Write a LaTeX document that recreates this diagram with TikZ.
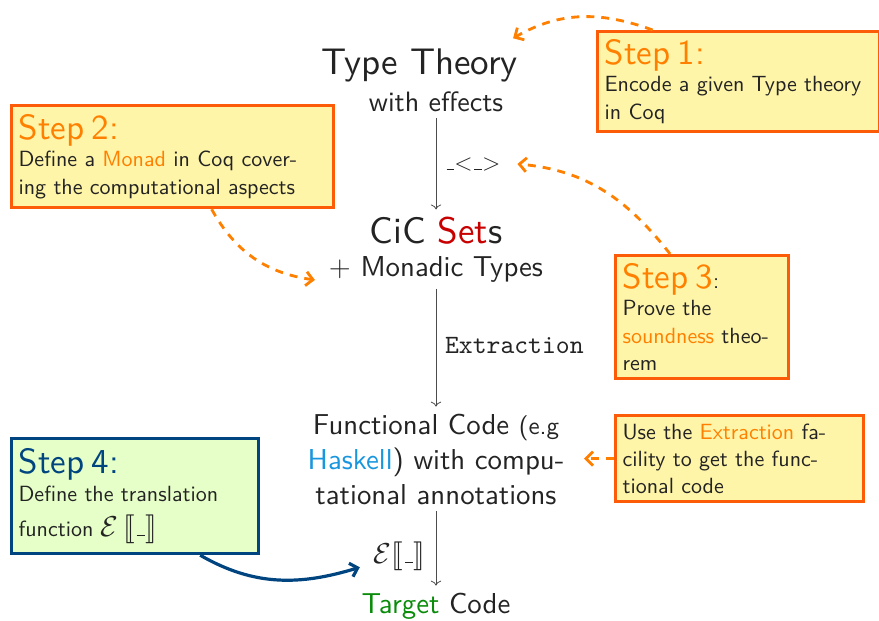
\documentclass[tikz,border=0pt]{standalone}
\usepackage{fontspec}
\usepackage{stmaryrd}
\setsansfont{lmsans10-regular}[Extension=.otf]
\setmonofont{lmmono10-regular}[Extension=.otf]
\renewcommand{\familydefault}{\sfdefault}
\usetikzlibrary{arrows.meta}

\definecolor{steporange}{RGB}{255,128,0}
\definecolor{boxborder}{RGB}{252,92,8}
\definecolor{boxfill}{RGB}{255,245,168}
\definecolor{stepblue}{RGB}{0,68,128}
\definecolor{stepgreen}{RGB}{230,255,200}
\definecolor{haskellblue}{RGB}{25,150,222}
\definecolor{targetgreen}{RGB}{10,140,10}
\definecolor{setsred}{RGB}{200,0,0}
\definecolor{maintext}{RGB}{35,35,35}

\newcommand{\titre}[2]{{\fontsize{17.5}{17.5}\selectfont\color{#1}#2}}
\newcommand{\blank}{\leavevmode\kern.06em\vbox{\hrule width.3em}}
\newcommand{\sem}{\mathcal{E}\big\llbracket\mbox{\blank}\big\rrbracket}

\tikzset{
  stepbox/.style={draw=boxborder, fill=boxfill, line width=1.6pt, anchor=north west,
    align=left, inner sep=3.5pt, text=maintext, font=\fontsize{11}{13.6}\selectfont},
  bluebox/.style={stepbox, draw=stepblue, fill=stepgreen},
  hint/.style={draw=steporange, line width=1.4pt, dash pattern=on 4pt off 3.5pt,
    -{Straight Barb[length=3.5pt,width=7pt]}},
  flow/.style={draw=black!70, ->},
}

\begin{document}
\begin{tikzpicture}[x=0.5pt, y=-0.5pt, text=maintext]
  \useasboundingbox (0,0) rectangle (879,621);

  % la chaine
  \node[anchor=base, font=\fontsize{18.5}{22}\selectfont] (tt) at (420,75) {Type Theory};
  \node[anchor=base, font=\fontsize{14}{17}\selectfont] (tteff) at (436,111) {with effects};
  \node[anchor=base, font=\fontsize{18.5}{22}\selectfont] (cic) at (436,243) {CiC \textcolor{setsred}{Set}s};
  \node[anchor=base, font=\fontsize{14.4}{17}\selectfont] (cicsub) at (436,276) {$+$ Monadic Types};
  \node[align=center, font=\fontsize{14.4}{17.5}\selectfont] (fc) at (436,459)
    {Functional Code {\fontsize{12.5}{14}\selectfont(e.g}\\\textcolor{haskellblue}{Haskell}) with compu-\\tational annotations};
  \node[anchor=base, font=\fontsize{14.4}{17}\selectfont] (target) at (436,613) {\textcolor{targetgreen}{Target} Code};

  \node[anchor=base west, font=\fontsize{13}{15}\selectfont] (lbl1) at (438,170) {\blank$<$\blank$>$};
  \node[anchor=base west, font=\fontsize{13.2}{15}\ttfamily] (lbl2) at (438,353) {Extraction};
  \node[anchor=base east, font=\fontsize{14}{16}\selectfont] (lbl3) at (432,563) {$\sem$};

  \draw[flow] (tteff.south) -- (cic.north);
  \draw[flow] (cicsub.south) -- (fc.north);
  \draw[flow] (fc.south) -- (target.north);

  % les etapes
  \node[stepbox, text width=134pt, minimum height=50pt] (step1) at (596,30)
    {\titre{steporange}{Step 1:}\\Encode a given Type theory\\in Coq};
  \node[stepbox, text width=154pt, minimum height=51pt] (step2) at (10,104)
    {\titre{steporange}{Step 2:}\\Define a \textcolor{steporange}{Monad} in Coq cover-\\ing the computational aspects};
  \node[stepbox, text width=79.5pt, minimum height=61.5pt] (step3) at (614,254)
    {\titre{steporange}{Step 3}:\\Prove the\\\textcolor{steporange}{soundness} theo-\\rem};
  \node[stepbox, text width=117pt, minimum height=43pt] (note) at (614,414)
    {Use the \textcolor{steporange}{Extraction} fa-\\cility to get the func-\\tional code};
  \node[bluebox, text width=116.5pt, minimum height=57.5pt] (step4) at (10,437)
    {\titre{stepblue}{Step 4:}\\Define the translation\\[4pt]function {\Large$\mathcal{E}\,\llbracket\mbox{\blank}\rrbracket$}};

  \draw[hint] ([xshift=-43pt]step1.north) to[out=160,in=30] ([xshift=-6pt,yshift=2pt]tt.north east);
  \draw[hint] ([xshift=-16pt]step3.north) to[out=128,in=-5] ([xshift=5pt]lbl1.east);
  \draw[hint] ([xshift=19.5pt]step2.south) to[out=-61,in=172] ([xshift=-3.5pt,yshift=4.5pt]cicsub.south west);
  \draw[hint] (note.west) -- ++(-15pt,0);
  \draw[stepblue, line width=1.6pt, -{Straight Barb[length=3.5pt,width=7pt]}]
    ([xshift=-30pt]step4.south east) to[out=-30,in=197] ([xshift=-3.5pt,yshift=5pt]lbl3.south west);
\end{tikzpicture}
\end{document}
